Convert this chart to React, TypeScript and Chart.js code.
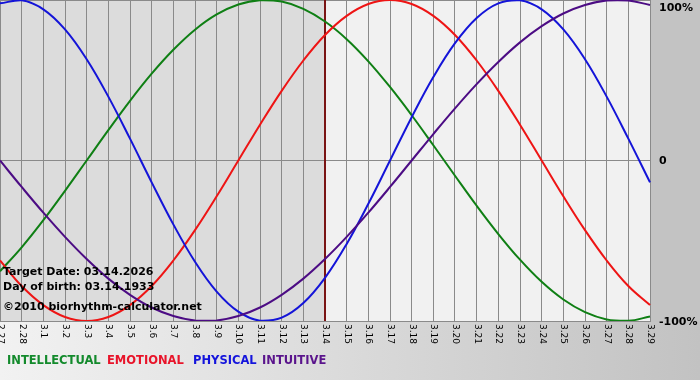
import React, { useEffect, useRef } from "react";
import { Chart, registerables } from "chart.js";

Chart.register(...registerables);

const dayLabels = [
  "2.27", "2.28", "3.1", "3.2", "3.3", "3.4", "3.5", "3.6", "3.7", "3.8", "3.9",
  "3.10", "3.11", "3.12", "3.13", "3.14", "3.15", "3.16", "3.17", "3.18", "3.19",
  "3.20", "3.21", "3.22", "3.23", "3.24", "3.25", "3.26", "3.27", "3.28", "3.29",
];

const intellectual = [
  -0.69, -0.541, -0.372, -0.189, 0, 0.189, 0.372, 0.541, 0.69, 0.815, 0.91,
  0.972, 0.999, 0.99, 0.945, 0.866, 0.756, 0.618, 0.458, 0.282, 0.095,
  -0.095, -0.282, -0.458, -0.618, -0.756, -0.866, -0.945, -0.99, -0.999, -0.972,
];

const emotional = [
  -0.623, -0.782, -0.901, -0.975, -1, -0.975, -0.901, -0.782, -0.623, -0.434, -0.223,
  0, 0.223, 0.434, 0.623, 0.782, 0.901, 0.975, 1, 0.975, 0.901,
  0.782, 0.623, 0.434, 0.223, 0, -0.223, -0.434, -0.623, -0.782, -0.901,
];

const physical = [
  0.979, 0.998, 0.942, 0.817, 0.631, 0.398, 0.136, -0.136, -0.398, -0.631, -0.817,
  -0.942, -0.998, -0.979, -0.888, -0.731, -0.52, -0.27, 0, 0.27, 0.52,
  0.731, 0.888, 0.979, 0.998, 0.942, 0.817, 0.631, 0.398, 0.136, -0.136,
];

const intuitive = [
  0, -0.165, -0.325, -0.476, -0.614, -0.736, -0.837, -0.916, -0.969, -0.997, -0.997,
  -0.969, -0.916, -0.837, -0.736, -0.614, -0.476, -0.325, -0.165, 0, 0.165,
  0.325, 0.476, 0.614, 0.736, 0.837, 0.916, 0.969, 0.997, 0.997, 0.969,
];

const targetLabel = "3.14";
const yTickValues = [1, 0, -1];
const yTickLabels = ["100%", "0", "-100%"];
const infoLines = [
  "Target Date: 03.14.2026",
  "Day of birth: 03.14.1933",
  "\u00A92010 biorhythm-calculator.net",
];
const legendNames = ["INTELLECTUAL", "EMOTIONAL", "PHYSICAL", "INTUITIVE"];

const lineColors = ["#0f7f14", "#ee1414", "#1414d8", "#4c0c84"];
const legendColors = ["#138a2c", "#e8142a", "#1414dc", "#5a148c"];

const decorPlugin = {
  id: "decor",
  beforeDraw(chart: any) {
    const { ctx, chartArea } = chart;
    const xs = chart.scales.x;
    const tx = xs.getPixelForValue(dayLabels.indexOf(targetLabel));
    ctx.save();
    ctx.fillStyle = "#c3c3c3";
    ctx.fillRect(chartArea.right, 0, chart.width - chartArea.right, chartArea.bottom + 1);
    ctx.fillStyle = "#dcdcdc";
    ctx.fillRect(chartArea.left, chartArea.top, tx - chartArea.left, chartArea.bottom - chartArea.top);
    ctx.fillStyle = "#f1f1f1";
    ctx.fillRect(tx, chartArea.top, chartArea.right - tx, chartArea.bottom - chartArea.top);
    ctx.restore();
  },
  beforeDatasetsDraw(chart: any) {
    const { ctx, chartArea } = chart;
    const xs = chart.scales.x;
    const tx = Math.round(xs.getPixelForValue(dayLabels.indexOf(targetLabel)));
    ctx.save();
    ctx.strokeStyle = "#7a1414";
    ctx.lineWidth = 2;
    ctx.beginPath();
    ctx.moveTo(tx, chartArea.top);
    ctx.lineTo(tx, chartArea.bottom);
    ctx.stroke();
    ctx.restore();
  },
  afterDraw(chart: any) {
    const { ctx, chartArea } = chart;
    const xs = chart.scales.x;
    const ys = chart.scales.y;
    ctx.save();
    ctx.fillStyle = "#000";
    ctx.font = "9px 'DejaVu Sans'";
    ctx.textAlign = "left";
    ctx.textBaseline = "middle";
    dayLabels.forEach((lab, i) => {
      const x = xs.getPixelForValue(i);
      ctx.save();
      ctx.translate(x + 0.5, chartArea.bottom + 3);
      ctx.rotate(Math.PI / 2);
      ctx.fillText(lab, 0, 0);
      ctx.restore();
    });
    ctx.font = "bold 11px 'DejaVu Sans'";
    yTickValues.forEach((v, i) => {
      let y = ys.getPixelForValue(v);
      if (y < 7) y = 7;
      ctx.fillText(yTickLabels[i], chartArea.right + 9, y + 1);
    });
    const infoY = [272, 287, 307];
    infoLines.forEach((t, i) => {
      ctx.fillText(t, 3, infoY[i]);
    });
    ctx.font = "bold 11.5px 'DejaVu Sans'";
    const legendX = [7, 107, 193, 262];
    legendNames.forEach((n, i) => {
      ctx.fillStyle = legendColors[i];
      ctx.fillText(n, legendX[i], 361);
    });
    ctx.restore();
  },
};

export default function App() {
  const ref = useRef<HTMLCanvasElement>(null);
  useEffect(() => {
    if (!ref.current) return;
    const mk = (label: string, data: number[], color: string) => ({
      label,
      data,
      borderColor: color,
      backgroundColor: color,
      borderWidth: 2,
      pointRadius: 0,
      tension: 0.4,
      fill: false,
    });
    const chart = new Chart(ref.current, {
      type: "line",
      data: {
        labels: dayLabels,
        datasets: [
          mk("INTUITIVE", intuitive, lineColors[3]),
          mk("PHYSICAL", physical, lineColors[2]),
          mk("EMOTIONAL", emotional, lineColors[1]),
          mk("INTELLECTUAL", intellectual, lineColors[0]),
        ],
      },
      options: {
        responsive: false,
        animation: false,
        layout: { padding: { left: 0, top: 0, right: 50, bottom: 59 } },
        plugins: { legend: { display: false }, tooltip: { enabled: false } },
        scales: {
          x: {
            type: "category",
            offset: false,
            ticks: { display: false },
            grid: { color: "#8a8a8a", lineWidth: 1, drawTicks: false },
            border: { display: true, color: "#8a8a8a" },
          },
          y: {
            position: "right",
            min: -1,
            max: 1,
            ticks: { display: false, stepSize: 1 },
            grid: { color: "#8a8a8a", lineWidth: 1, drawTicks: false },
            border: { display: true, color: "#8a8a8a" },
          },
        },
      },
      plugins: [decorPlugin],
    });
    return () => chart.destroy();
  }, []);
  return (
    <div
      style={{
        position: "fixed",
        left: 0,
        top: 0,
        width: 700,
        height: 380,
        background: "linear-gradient(to right, #f2f2f2, #c2c2c2)",
      }}
    >
      <canvas ref={ref} width={700} height={380} style={{ display: "block" }} />
    </div>
  );
}
